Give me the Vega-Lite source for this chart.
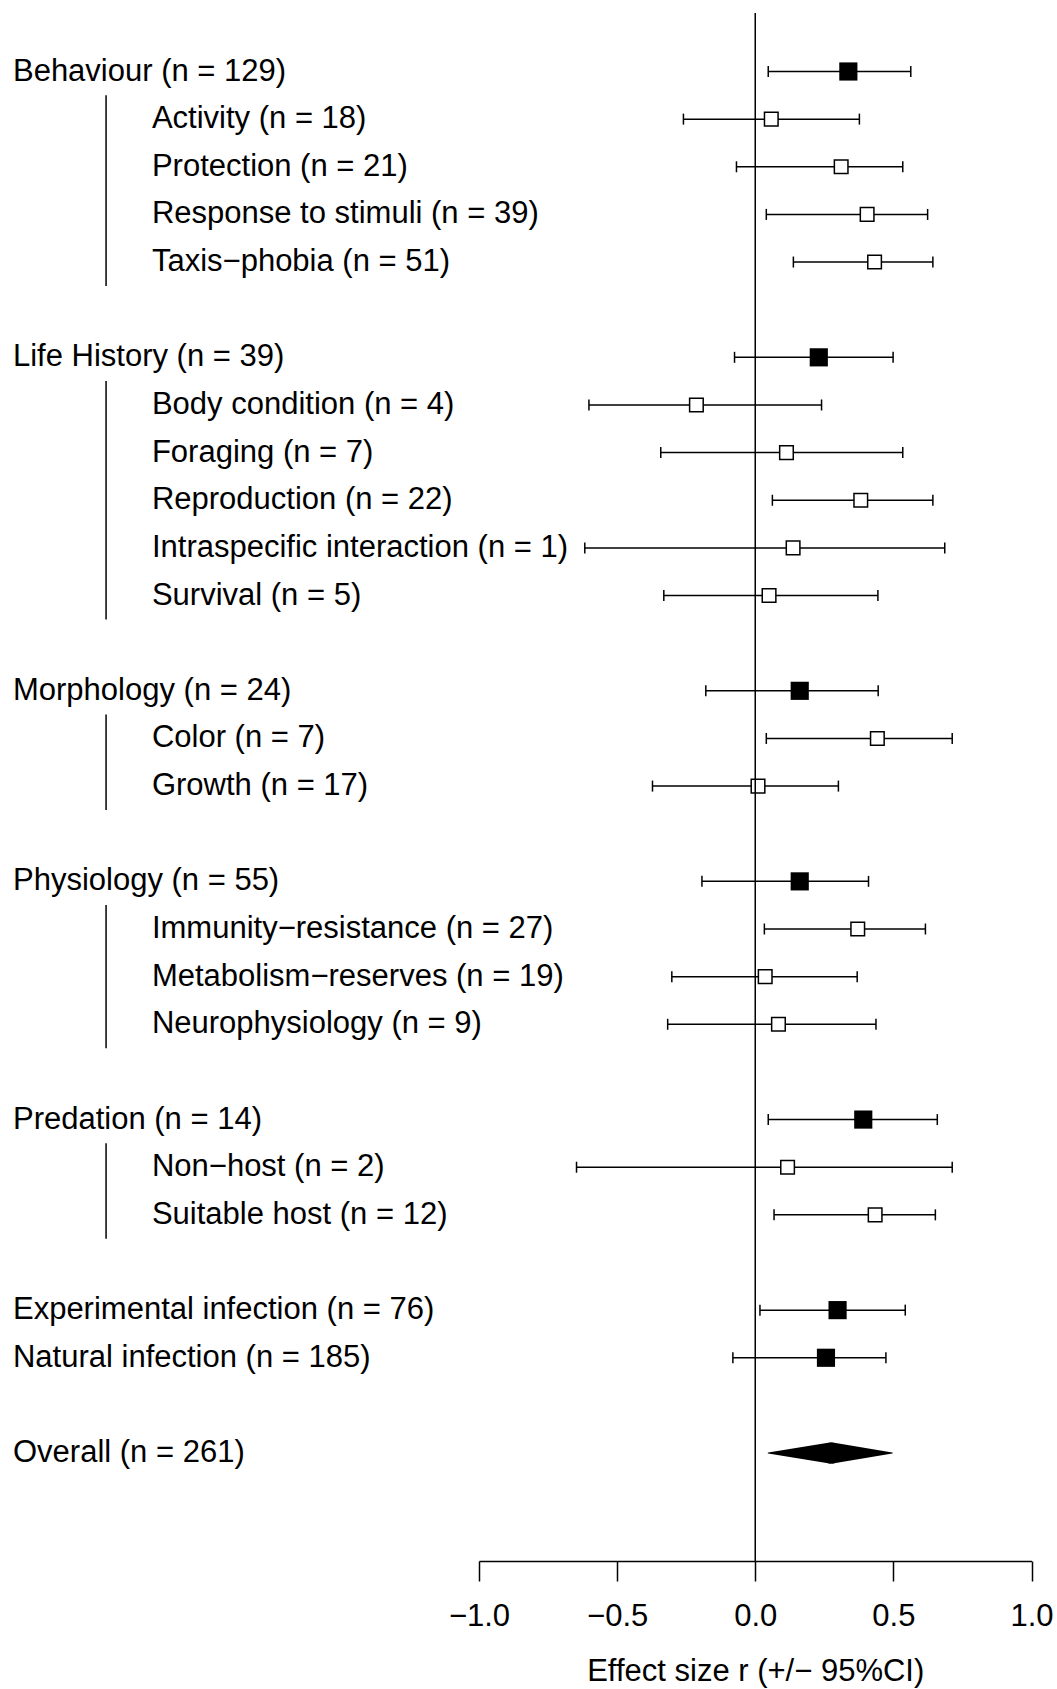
{
  "$schema": "https://vega.github.io/schema/vega-lite/v6.json",
  "width": 1057,
  "height": 1548,
  "autosize": "none",
  "padding": {"top": 13, "left": 0, "right": 0, "bottom": 128},
  "background": "white",
  "config": {
    "view": {"stroke": null},
    "font": "Liberation Sans",
    "axisX": {
      "grid": false,
      "domain": true, "domainColor": "black", "domainWidth": 1.5,
      "ticks": true, "tickColor": "black", "tickWidth": 1.5, "tickSize": 20,
      "labelFont": "Liberation Sans", "labelFontSize": 31, "labelColor": "black", "labelPadding": 20,
      "labelFlush": false, "labelOverlap": false,
      "titleFont": "Liberation Sans", "titleFontSize": 31,
      "titleFontWeight": "normal", "titleColor": "black", "titlePadding": 25
    }
  },
  "datasets": {
    "rows": [
      {"label": "Behaviour (n = 129)", "row": 1, "est": 0.337, "lo": 0.047, "hi": 0.563, "level": "group", "group": "Behaviour"},
      {"label": "Activity (n = 18)", "row": 2, "est": 0.058, "lo": -0.26, "hi": 0.377, "level": "sub", "group": "Behaviour"},
      {"label": "Protection (n = 21)", "row": 3, "est": 0.311, "lo": -0.068, "hi": 0.534, "level": "sub", "group": "Behaviour"},
      {"label": "Response to stimuli (n = 39)", "row": 4, "est": 0.405, "lo": 0.04, "hi": 0.624, "level": "sub", "group": "Behaviour"},
      {"label": "Taxis−phobia (n = 51)", "row": 5, "est": 0.432, "lo": 0.138, "hi": 0.643, "level": "sub", "group": "Behaviour"},
      {"label": "Life History (n = 39)", "row": 7, "est": 0.23, "lo": -0.075, "hi": 0.499, "level": "group", "group": "Life History"},
      {"label": "Body condition (n = 4)", "row": 8, "est": -0.213, "lo": -0.602, "hi": 0.24, "level": "sub", "group": "Life History"},
      {"label": "Foraging (n = 7)", "row": 9, "est": 0.113, "lo": -0.342, "hi": 0.534, "level": "sub", "group": "Life History"},
      {"label": "Reproduction (n = 22)", "row": 10, "est": 0.382, "lo": 0.062, "hi": 0.643, "level": "sub", "group": "Life History"},
      {"label": "Intraspecific interaction (n = 1)", "row": 11, "est": 0.137, "lo": -0.617, "hi": 0.686, "level": "sub", "group": "Life History"},
      {"label": "Survival (n = 5)", "row": 12, "est": 0.05, "lo": -0.331, "hi": 0.444, "level": "sub", "group": "Life History"},
      {"label": "Morphology (n = 24)", "row": 14, "est": 0.161, "lo": -0.179, "hi": 0.445, "level": "group", "group": "Morphology"},
      {"label": "Color (n = 7)", "row": 15, "est": 0.442, "lo": 0.04, "hi": 0.713, "level": "sub", "group": "Morphology"},
      {"label": "Growth (n = 17)", "row": 16, "est": 0.01, "lo": -0.372, "hi": 0.301, "level": "sub", "group": "Morphology"},
      {"label": "Physiology (n = 55)", "row": 18, "est": 0.161, "lo": -0.193, "hi": 0.41, "level": "group", "group": "Physiology"},
      {"label": "Immunity−resistance (n = 27)", "row": 19, "est": 0.371, "lo": 0.033, "hi": 0.616, "level": "sub", "group": "Physiology"},
      {"label": "Metabolism−reserves (n = 19)", "row": 20, "est": 0.036, "lo": -0.302, "hi": 0.369, "level": "sub", "group": "Physiology"},
      {"label": "Neurophysiology (n = 9)", "row": 21, "est": 0.084, "lo": -0.317, "hi": 0.437, "level": "sub", "group": "Physiology"},
      {"label": "Predation (n = 14)", "row": 23, "est": 0.391, "lo": 0.047, "hi": 0.659, "level": "group", "group": "Predation"},
      {"label": "Non−host (n = 2)", "row": 24, "est": 0.117, "lo": -0.647, "hi": 0.713, "level": "sub", "group": "Predation"},
      {"label": "Suitable host (n = 12)", "row": 25, "est": 0.434, "lo": 0.068, "hi": 0.652, "level": "sub", "group": "Predation"},
      {"label": "Experimental infection (n = 76)", "row": 27, "est": 0.298, "lo": 0.017, "hi": 0.543, "level": "group", "group": "Experimental"},
      {"label": "Natural infection (n = 185)", "row": 28, "est": 0.256, "lo": -0.081, "hi": 0.473, "level": "group", "group": "Natural"},
      {"label": "Overall (n = 261)", "row": 30, "est": 0.275, "lo": 0.047, "hi": 0.496, "level": "overall", "group": "Overall"}
    ],
    "diamond": [
      {"x": 0.047, "w": 0, "row": 30},
      {"x": 0.275, "w": 1, "row": 30},
      {"x": 0.496, "w": 0, "row": 30}
    ]
  },
  "layer": [
    {
      "data": {"name": "rows"},
      "transform": [{"filter": "datum.level === 'sub'"}],
      "mark": {"type": "rule", "color": "black", "strokeWidth": 1.5, "yOffset": -24, "y2Offset": 24},
      "encoding": {
        "x": {"datum": -2.35, "type": "quantitative", "scale": {"domain": [-1, 1], "range": [479, 1031.5], "nice": false, "zero": false}, "axis": {"values": [-1, -0.5, 0, 0.5, 1], "format": ".1f", "title": "Effect size r (+/− 95%CI)"}},
        "y": {"aggregate": "min", "field": "row", "type": "quantitative", "scale": {"domain": [-0.228, 32.266], "reverse": true, "nice": false, "zero": false}, "axis": null},
        "y2": {"aggregate": "max", "field": "row"},
        "detail": {"field": "group", "type": "nominal"}
      }
    },
    {
      "data": {"name": "rows"},
      "transform": [{"filter": "datum.level !== 'overall'"}],
      "mark": {"type": "rule", "color": "black", "strokeWidth": 1.5},
      "encoding": {
        "x": {"field": "lo", "type": "quantitative", "scale": {"domain": [-1, 1], "range": [479, 1031.5], "nice": false, "zero": false}, "axis": {"values": [-1, -0.5, 0, 0.5, 1], "format": ".1f", "title": "Effect size r (+/− 95%CI)"}},
        "x2": {"field": "hi"},
        "y": {"field": "row", "type": "quantitative", "scale": {"domain": [-0.228, 32.266], "reverse": true, "nice": false, "zero": false}, "axis": null}
      }
    },
    {
      "data": {"name": "rows"},
      "transform": [{"filter": "datum.level !== 'overall'"}],
      "mark": {"type": "rule", "color": "black", "strokeWidth": 1.5, "yOffset": -5.5, "y2Offset": 5.5},
      "encoding": {
        "x": {"field": "lo", "type": "quantitative", "scale": {"domain": [-1, 1], "range": [479, 1031.5], "nice": false, "zero": false}, "axis": {"values": [-1, -0.5, 0, 0.5, 1], "format": ".1f", "title": "Effect size r (+/− 95%CI)"}},
        "y": {"field": "row", "type": "quantitative", "scale": {"domain": [-0.228, 32.266], "reverse": true, "nice": false, "zero": false}, "axis": null},
        "y2": {"field": "row"}
      }
    },
    {
      "data": {"name": "rows"},
      "transform": [{"filter": "datum.level !== 'overall'"}],
      "mark": {"type": "rule", "color": "black", "strokeWidth": 1.5, "yOffset": -5.5, "y2Offset": 5.5},
      "encoding": {
        "x": {"field": "hi", "type": "quantitative", "scale": {"domain": [-1, 1], "range": [479, 1031.5], "nice": false, "zero": false}, "axis": {"values": [-1, -0.5, 0, 0.5, 1], "format": ".1f", "title": "Effect size r (+/− 95%CI)"}},
        "y": {"field": "row", "type": "quantitative", "scale": {"domain": [-0.228, 32.266], "reverse": true, "nice": false, "zero": false}, "axis": null},
        "y2": {"field": "row"}
      }
    },
    {
      "data": {"name": "rows"},
      "transform": [{"filter": "datum.level === 'sub'"}],
      "mark": {"type": "point", "shape": "square", "filled": false, "fill": "white", "fillOpacity": 1, "stroke": "black", "strokeWidth": 1.5, "size": 185, "opacity": 1},
      "encoding": {
        "x": {"field": "est", "type": "quantitative", "scale": {"domain": [-1, 1], "range": [479, 1031.5], "nice": false, "zero": false}, "axis": {"values": [-1, -0.5, 0, 0.5, 1], "format": ".1f", "title": "Effect size r (+/− 95%CI)"}},
        "y": {"field": "row", "type": "quantitative", "scale": {"domain": [-0.228, 32.266], "reverse": true, "nice": false, "zero": false}, "axis": null}
      }
    },
    {
      "data": {"name": "rows"},
      "transform": [{"filter": "datum.level === 'group'"}],
      "mark": {"type": "square", "color": "black", "size": 330, "opacity": 1},
      "encoding": {
        "x": {"field": "est", "type": "quantitative", "scale": {"domain": [-1, 1], "range": [479, 1031.5], "nice": false, "zero": false}, "axis": {"values": [-1, -0.5, 0, 0.5, 1], "format": ".1f", "title": "Effect size r (+/− 95%CI)"}},
        "y": {"field": "row", "type": "quantitative", "scale": {"domain": [-0.228, 32.266], "reverse": true, "nice": false, "zero": false}, "axis": null}
      }
    },
    {
      "data": {"name": "diamond"},
      "mark": {"type": "trail", "color": "black"},
      "encoding": {
        "x": {"field": "x", "type": "quantitative", "scale": {"domain": [-1, 1], "range": [479, 1031.5], "nice": false, "zero": false}, "axis": {"values": [-1, -0.5, 0, 0.5, 1], "format": ".1f", "title": "Effect size r (+/− 95%CI)"}},
        "y": {"field": "row", "type": "quantitative", "scale": {"domain": [-0.228, 32.266], "reverse": true, "nice": false, "zero": false}, "axis": null},
        "size": {"field": "w", "type": "quantitative", "scale": {"domain": [0, 1], "range": [0, 21.5]}, "legend": null},
        "order": {"field": "x", "type": "quantitative"}
      }
    },
    {
      "data": {"values": [{"ref": 0}]},
      "mark": {"type": "rule", "color": "black", "strokeWidth": 1.5},
      "encoding": {
        "x": {"field": "ref", "type": "quantitative", "scale": {"domain": [-1, 1], "range": [479, 1031.5], "nice": false, "zero": false}, "axis": {"values": [-1, -0.5, 0, 0.5, 1], "format": ".1f", "title": "Effect size r (+/− 95%CI)"}}
      }
    },
    {
      "data": {"name": "rows"},
      "transform": [{"filter": "datum.level !== 'sub'"}],
      "mark": {"type": "text", "align": "left", "baseline": "middle", "font": "Liberation Sans", "fontSize": 31, "color": "black"},
      "encoding": {
        "x": {"datum": -2.687, "type": "quantitative", "scale": {"domain": [-1, 1], "range": [479, 1031.5], "nice": false, "zero": false}, "axis": {"values": [-1, -0.5, 0, 0.5, 1], "format": ".1f", "title": "Effect size r (+/− 95%CI)"}},
        "y": {"field": "row", "type": "quantitative", "scale": {"domain": [-0.228, 32.266], "reverse": true, "nice": false, "zero": false}, "axis": null},
        "text": {"field": "label", "type": "nominal"}
      }
    },
    {
      "data": {"name": "rows"},
      "transform": [{"filter": "datum.level === 'sub'"}],
      "mark": {"type": "text", "align": "left", "baseline": "middle", "font": "Liberation Sans", "fontSize": 31, "color": "black"},
      "encoding": {
        "x": {"datum": -2.184, "type": "quantitative", "scale": {"domain": [-1, 1], "range": [479, 1031.5], "nice": false, "zero": false}, "axis": {"values": [-1, -0.5, 0, 0.5, 1], "format": ".1f", "title": "Effect size r (+/− 95%CI)"}},
        "y": {"field": "row", "type": "quantitative", "scale": {"domain": [-0.228, 32.266], "reverse": true, "nice": false, "zero": false}, "axis": null},
        "text": {"field": "label", "type": "nominal"}
      }
    }
  ]
}
